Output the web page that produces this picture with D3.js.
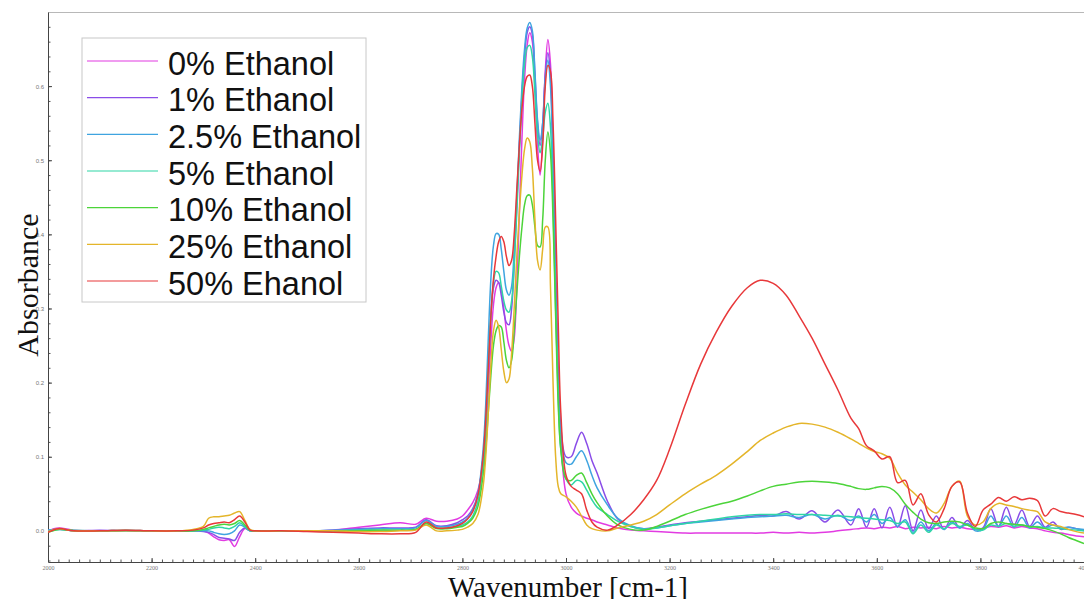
<!DOCTYPE html>
<html><head><meta charset="utf-8">
<script src="https://cdn.jsdelivr.net/npm/d3@7"></script>
<style>body{margin:0;background:#fff}svg{display:block}</style>
</head><body><svg id="chart" width="1084" height="599"></svg>
<script>
const wavenumbers = [
  2000, 2020, 2050, 2100, 2150, 2200, 2250, 2280, 2300,
  2310, 2320, 2330, 2340, 2350, 2360, 2370, 2380, 2390, 2400,
  2450, 2500, 2550, 2600, 2640, 2680, 2710, 2730, 2750, 2770, 2790,
  2800, 2810, 2820, 2830, 2840, 2845, 2850, 2855, 2860, 2865, 2870, 2875, 2880, 2885, 2890, 2895, 2900, 2905, 2910, 2915, 2920, 2925, 2930, 2935, 2940, 2945, 2950, 2955, 2960, 2965, 2970, 2975, 2980, 2985, 2990, 3000, 3010, 3020, 3030, 3040, 3050, 3060,
  3080, 3100, 3125, 3150, 3175, 3200, 3230, 3260, 3290, 3320, 3350, 3375, 3400, 3425, 3450, 3475, 3500, 3525, 3550,
  3565, 3580, 3595, 3610, 3625, 3640, 3655, 3670, 3685, 3700, 3715, 3730, 3745, 3760, 3775, 3790, 3805, 3820, 3835, 3850, 3865, 3880, 3895, 3910, 3925, 3940, 3955, 3970, 3985, 4000
];

const abs0 = [
  0.0, 0.004, 0.001, 0.0, 0.001, 0.0, 0.0, 0.0, 0.0,
  -0.003, -0.008, -0.012, -0.013, -0.012, -0.021, -0.008, 0.003, 0.0, 0.0,
  0.0, 0.0, 0.001, 0.005, 0.008, 0.011, 0.009, 0.017, 0.013, 0.013, 0.016,
  0.02, 0.028, 0.038, 0.055, 0.09, 0.13, 0.19, 0.255, 0.305, 0.328, 0.335, 0.325, 0.3, 0.27, 0.25, 0.242, 0.26, 0.33, 0.43, 0.53, 0.61, 0.655, 0.672, 0.66, 0.6, 0.52, 0.48, 0.53, 0.62, 0.663, 0.63, 0.52, 0.36, 0.21, 0.12, 0.05, 0.032, 0.024, 0.02, 0.017, 0.015, 0.012,
  0.008, 0.004, 0.001, 0.0, -0.001, -0.002, -0.003, -0.003, -0.003, -0.003, -0.003, -0.003, -0.002, -0.003, -0.002, -0.003, -0.002, 0.0, 0.002,
  0.003, 0.004, 0.003, 0.005, 0.004, 0.006, 0.003, 0.005, 0.004, 0.005, 0.003, 0.006, 0.004, 0.005, 0.003, 0.002, 0.003, 0.006, 0.005, 0.007, 0.004, 0.006, 0.004, 0.003, 0.0, -0.002, -0.003, -0.005, -0.007, -0.008
];
const abs1 = [
  0.0, 0.003, 0.0, 0.001, 0.0, 0.0, 0.0, 0.0, -0.001,
  -0.002, -0.005, -0.009, -0.01, -0.011, -0.013, -0.002, 0.004, 0.0, 0.0,
  0.0, 0.0, 0.001, 0.003, 0.004, 0.004, 0.005, 0.015, 0.007, 0.007, 0.011,
  0.015, 0.02, 0.03, 0.05, 0.1, 0.15, 0.22, 0.29, 0.328, 0.338, 0.335, 0.318, 0.295, 0.281, 0.278, 0.3, 0.36, 0.44, 0.52, 0.59, 0.64, 0.672, 0.68, 0.67, 0.615, 0.55, 0.52, 0.55, 0.615, 0.645, 0.615, 0.5, 0.34, 0.21, 0.14, 0.1, 0.1, 0.118, 0.133, 0.118, 0.095, 0.078,
  0.04, 0.016, 0.006, 0.003, 0.005, 0.008, 0.011, 0.013, 0.015, 0.017, 0.019, 0.021, 0.02, 0.026, 0.016, 0.027, 0.012, 0.028, 0.008,
  0.03, 0.005, 0.03, 0.004, 0.032, 0.005, 0.034, 0.0, 0.028, 0.003, 0.02, 0.002, 0.018, 0.004, 0.014, 0.002, 0.004, 0.03, 0.006, 0.032, 0.008, 0.028, 0.006, 0.02, 0.005, 0.012, 0.002, 0.005, 0.003, 0.0
];
const abs2_5 = [
  0.001, 0.002, 0.0, 0.0, 0.0, 0.0, 0.0, 0.0, 0.0,
  0.0, -0.002, -0.004, -0.005, -0.004, 0.0, 0.008, 0.005, 0.0, 0.0,
  0.0, 0.0, 0.001, 0.002, 0.003, 0.003, 0.004, 0.014, 0.006, 0.006, 0.009,
  0.012, 0.017, 0.028, 0.05, 0.11, 0.17, 0.26, 0.34, 0.385, 0.401, 0.4, 0.38, 0.35, 0.325, 0.318, 0.33, 0.38, 0.45, 0.53, 0.6, 0.65, 0.678, 0.686, 0.675, 0.62, 0.555, 0.527, 0.55, 0.61, 0.635, 0.6, 0.49, 0.33, 0.2, 0.135, 0.092, 0.09, 0.1, 0.108, 0.095, 0.075, 0.058,
  0.035, 0.017, 0.007, 0.003, 0.004, 0.007, 0.01, 0.012, 0.014, 0.016, 0.018, 0.019, 0.02, 0.021, 0.018, 0.022, 0.016, 0.021, 0.014,
  0.02, 0.012, 0.022, 0.01, 0.018, 0.006, 0.015, -0.002, 0.012, 0.0, 0.01, 0.002, 0.012, 0.004, 0.01, 0.0, 0.002, 0.02, 0.006, 0.02, 0.005, 0.018, 0.004, 0.012, 0.004, 0.008, 0.004, 0.005, 0.003, 0.002
];
const abs5 = [
  -0.001, 0.002, 0.001, 0.0, 0.0, 0.0, 0.0, 0.0, 0.001,
  0.002, 0.004, 0.005, 0.004, 0.003, 0.006, 0.011, 0.006, 0.0, 0.0,
  0.0, 0.0, 0.0, 0.001, 0.001, 0.001, 0.002, 0.01, 0.004, 0.004, 0.006,
  0.008, 0.012, 0.02, 0.04, 0.09, 0.14, 0.22, 0.29, 0.335, 0.35, 0.348, 0.33, 0.31, 0.298, 0.295, 0.31, 0.36, 0.43, 0.51, 0.58, 0.63, 0.652, 0.655, 0.64, 0.59, 0.535, 0.51, 0.53, 0.565, 0.577, 0.545, 0.44, 0.3, 0.18, 0.11, 0.07, 0.062, 0.068, 0.066, 0.055, 0.042, 0.032,
  0.022, 0.013, 0.006, 0.002, 0.004, 0.007, 0.01, 0.013, 0.016, 0.019, 0.021, 0.022, 0.022, 0.023, 0.022, 0.022, 0.021, 0.02, 0.019,
  0.018, 0.017, 0.016, 0.015, 0.014, 0.01, 0.012, -0.004, 0.008, -0.002, 0.008, 0.003, 0.01, 0.006, 0.008, 0.002, 0.001, 0.008, 0.006, 0.01, 0.006, 0.008, 0.005, 0.006, 0.004, 0.004, 0.003, 0.002, 0.001, 0.0
];
const abs10 = [
  -0.002, 0.002, 0.0, 0.0, 0.001, 0.0, 0.0, 0.0, 0.002,
  0.004, 0.006, 0.008, 0.009, 0.008, 0.01, 0.014, 0.008, 0.001, 0.0,
  0.0, 0.0, 0.0, 0.0, 0.001, 0.001, 0.002, 0.01, 0.003, 0.003, 0.005,
  0.006, 0.01, 0.017, 0.033, 0.075, 0.11, 0.16, 0.21, 0.25, 0.27, 0.277, 0.275, 0.255, 0.23, 0.22, 0.23, 0.27, 0.32, 0.37, 0.41, 0.44, 0.452, 0.453, 0.44, 0.41, 0.385, 0.383, 0.42, 0.5, 0.538, 0.51, 0.42, 0.29, 0.17, 0.11, 0.07, 0.068, 0.075, 0.078, 0.065, 0.05, 0.038,
  0.02, 0.008, 0.002, 0.001, 0.006, 0.013, 0.022, 0.029, 0.035, 0.04, 0.047, 0.054, 0.06, 0.063, 0.066, 0.067, 0.066, 0.064, 0.06,
  0.057, 0.056, 0.058, 0.06, 0.058, 0.05, 0.036, 0.025, 0.016, 0.011, 0.01, 0.012, 0.013, 0.012, 0.008, 0.004, 0.003, 0.01, 0.012, 0.01, 0.009, 0.008, 0.006, 0.005, 0.003, 0.0, -0.004, -0.009, -0.013, -0.017
];
const abs25 = [
  -0.001, 0.003, 0.0, 0.0, 0.0, 0.0, 0.0, 0.002, 0.006,
  0.017, 0.019, 0.019, 0.02, 0.021, 0.024, 0.026, 0.014, 0.002, 0.0,
  0.0, 0.0, 0.0, -0.001, -0.001, 0.0, 0.001, 0.008, 0.0, 0.0, 0.001,
  0.002, 0.005, 0.01, 0.022, 0.06, 0.1, 0.16, 0.225, 0.27, 0.284, 0.275, 0.245, 0.215, 0.2, 0.205, 0.24, 0.3, 0.37, 0.43, 0.48, 0.515, 0.53, 0.525, 0.49, 0.42, 0.365, 0.352, 0.38, 0.41, 0.41, 0.33, 0.2, 0.1, 0.06, 0.05, 0.046, 0.04, 0.032, 0.02, 0.008, 0.003, 0.001,
  0.0, 0.004, 0.008, 0.013, 0.022, 0.035, 0.05, 0.063, 0.075, 0.09, 0.107, 0.122, 0.132, 0.14, 0.145, 0.144, 0.14, 0.133, 0.124,
  0.118, 0.112, 0.107, 0.104, 0.098, 0.078, 0.062, 0.052, 0.042, 0.03, 0.024, 0.037, 0.06, 0.067, 0.02, 0.008, 0.012, 0.03, 0.037, 0.035, 0.033, 0.03, 0.028, 0.026, 0.012, 0.008, 0.006, 0.002, -0.001, -0.003
];
const abs50 = [
  -0.002, 0.003, 0.0, 0.0, 0.001, 0.0, 0.0, 0.001, 0.004,
  0.008, 0.01, 0.011, 0.012, 0.011, 0.015, 0.02, 0.012, 0.001, 0.0,
  0.0, -0.001, -0.002, -0.003, -0.004, -0.004, -0.002, 0.012, 0.004, 0.004, 0.007,
  0.01, 0.016, 0.026, 0.048, 0.1, 0.15, 0.22, 0.29, 0.34, 0.37, 0.39, 0.397, 0.39, 0.37, 0.358, 0.365, 0.4, 0.46, 0.52, 0.57, 0.6, 0.613, 0.615, 0.6, 0.55, 0.5, 0.485, 0.52, 0.6, 0.628, 0.62, 0.55, 0.42, 0.28, 0.16, 0.075, 0.06, 0.055, 0.05, 0.028, 0.012, 0.005,
  0.001, 0.008, 0.022, 0.042, 0.068, 0.11, 0.17, 0.225, 0.268, 0.303, 0.328, 0.338, 0.334, 0.318, 0.29, 0.26, 0.225, 0.19, 0.152,
  0.138, 0.115, 0.108, 0.097, 0.1, 0.065, 0.068, 0.035, 0.05, 0.022, 0.012, 0.03, 0.06, 0.066, 0.024, 0.006, 0.028, 0.036, 0.045, 0.04, 0.046, 0.042, 0.044, 0.041, 0.02, 0.03, 0.026, 0.024, 0.022, 0.019
];

const seriesLabels = ["0% Ethanol", "1% Ethanol", "2.5% Ethanol", "5% Ethanol", "10% Ethanol", "25% Ethanol", "50% Ehanol"];
const seriesColors = ["#e23be2", "#8a4de8", "#3fa4e0", "#2fd6a6", "#4cd43a", "#e4b52a", "#e8383a"];
const seriesValues = [abs0, abs1, abs2_5, abs5, abs10, abs25, abs50];
const xTicks = [2000, 2200, 2400, 2600, 2800, 3000, 3200, 3400, 3600, 3800, 4000];
const yTicks = [0.0, 0.1, 0.2, 0.3, 0.4, 0.5, 0.6];
const xTitle = "Wavenumber [cm-1]";
const yTitle = "Absorbance";

(function draw() {
  const svg = d3.select("#chart");
  const pl = 48, pr = 1084, pt = 12, pb = 562;
  const x = d3.scaleLinear().domain([2000, 4000]).range([pl, pr]);
  const y = d3.scaleLinear().domain([-0.042, 0.70]).range([pb, pt]);

  svg.append("rect").attr("width", 1084).attr("height", 599).attr("fill", "#fff");

  svg.append("defs").append("clipPath").attr("id", "plotclip")
    .append("rect").attr("x", pl).attr("y", pt).attr("width", pr - pl).attr("height", pb - pt);

  svg.append("line").attr("x1", pl).attr("x2", pr).attr("y1", pt + 0.5).attr("y2", pt + 0.5)
    .attr("stroke", "#b8b8b8").attr("stroke-width", 1.2);

  const xMinor = d3.range(2000, 4001, 20);
  const yMinor = d3.range(-0.04, 0.70, 0.02);
  svg.append("g").attr("transform", `translate(0,${pb})`)
    .call(d3.axisBottom(x).tickValues(xMinor).tickSize(-2.5).tickFormat(""))
    .call(g => g.select(".domain").remove())
    .call(g => g.selectAll("line").attr("stroke", "#555"));
  svg.append("g").attr("transform", `translate(${pl},0)`)
    .call(d3.axisLeft(y).tickValues(yMinor).tickSize(-2.5).tickFormat(""))
    .call(g => g.select(".domain").remove())
    .call(g => g.selectAll("line").attr("stroke", "#555"));

  svg.append("g").attr("transform", `translate(0,${pb})`)
    .call(d3.axisBottom(x).tickValues(xTicks).tickSizeInner(-4).tickSizeOuter(0).tickPadding(4).tickFormat(d3.format("d")))
    .call(g => g.select(".domain").attr("stroke", "#444"))
    .call(g => g.selectAll("line").attr("stroke", "#444"))
    .call(g => g.selectAll("text").attr("font-size", 6).attr("fill", "#777").attr("font-family", "Liberation Serif, serif"));
  svg.append("g").attr("transform", `translate(${pl},0)`)
    .call(d3.axisLeft(y).tickValues(yTicks).tickSizeInner(-4).tickSizeOuter(0).tickPadding(4).tickFormat(d3.format(".1f")))
    .call(g => g.select(".domain").attr("stroke", "#444"))
    .call(g => g.selectAll("line").attr("stroke", "#444"))
    .call(g => g.selectAll("text").attr("font-size", 6).attr("fill", "#777").attr("font-family", "Liberation Sans, sans-serif"));

  const line = d3.line()
    .x((d, i) => x(wavenumbers[i]))
    .y(d => y(d))
    .curve(d3.curveCatmullRom.alpha(0.5));

  svg.append("g").attr("clip-path", "url(#plotclip)")
    .selectAll("path").data(seriesValues).join("path")
    .attr("d", d => line(d))
    .attr("fill", "none")
    .attr("stroke", (d, i) => seriesColors[i])
    .attr("stroke-width", 1.5)
    .attr("stroke-linejoin", "round");

  svg.append("text").attr("transform", "translate(38,285) rotate(-90)")
    .attr("text-anchor", "middle").attr("font-family", "Liberation Serif, Times New Roman, serif")
    .attr("font-size", 30).attr("fill", "#111").text(yTitle);
  svg.append("text").attr("x", 568).attr("y", 597)
    .attr("text-anchor", "middle").attr("font-family", "Liberation Serif, Times New Roman, serif")
    .attr("font-size", 29).attr("fill", "#111").text(xTitle);

  const lg = svg.append("g");
  lg.append("rect").attr("x", 82).attr("y", 38).attr("width", 284).attr("height", 264)
    .attr("fill", "#fff").attr("stroke", "#c8c8c8").attr("stroke-width", 1);
  const rows = lg.selectAll("g.row").data(seriesLabels).join("g").attr("class", "row")
    .attr("transform", (d, i) => `translate(0,${61 + i * 36.67})`);
  rows.append("line").attr("x1", 87).attr("x2", 158).attr("y1", 0).attr("y2", 0)
    .attr("stroke", (d, i) => seriesColors[i]).attr("stroke-width", 1.2);
  rows.append("text").attr("x", 168).attr("y", 13.5)
    .attr("font-family", "Liberation Sans, Arial, sans-serif").attr("font-size", 32.5)
    .attr("fill", "#111").text(d => d);
})();
</script>
</body></html>
